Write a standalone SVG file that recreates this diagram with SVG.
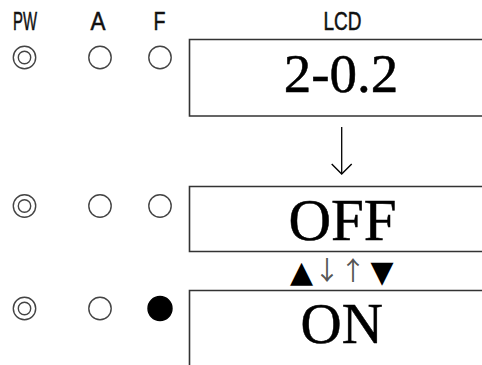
<svg xmlns="http://www.w3.org/2000/svg" width="482" height="365" viewBox="0 0 482 365">
<style>
.hdr{font-family:"Liberation Sans","DejaVu Sans",sans-serif;font-size:25px;fill:#111;stroke:#111;stroke-width:0.5;text-anchor:middle}
.led{fill:#fff;stroke:#444;stroke-width:1.4}
.on{fill:#000;stroke:#000}
.box{fill:none;stroke:#333;stroke-width:1.6}
.lcd{font-family:"Liberation Serif","DejaVu Serif",serif;fill:#000;stroke:#000;stroke-width:0.5;text-anchor:middle}
.sym{font-family:"DejaVu Sans",sans-serif;fill:#000;text-anchor:middle}
.thin{font-family:"Noto Sans CJK JP","DejaVu Sans",sans-serif;fill:#555;text-anchor:middle}
.conn{stroke:#000;stroke-width:1.3;fill:none}
</style>
<defs>
<marker id="open" viewBox="0 0 12 22" refX="11" refY="11" markerWidth="12" markerHeight="22" markerUnits="userSpaceOnUse" orient="auto">
<path d="M1 1 L11 11 L1 21" fill="none" stroke="#000" stroke-width="1.4"/>
</marker>
</defs>
<g id="headers">
<text class="hdr" x="25" y="29.5" textLength="24" lengthAdjust="spacingAndGlyphs">PW</text>
<text class="hdr" x="98" y="29.5" textLength="15" lengthAdjust="spacingAndGlyphs">A</text>
<text class="hdr" x="159.5" y="29.5" textLength="12" lengthAdjust="spacingAndGlyphs">F</text>
<text class="hdr" x="342.5" y="29.5" textLength="38" lengthAdjust="spacingAndGlyphs">LCD</text>
</g>
<g id="row1-leds">
<circle class="led" cx="24.5" cy="57.5" r="11.2"/><circle class="led" cx="24.5" cy="57.5" r="6.2"/>
<circle class="led" cx="100" cy="57.5" r="11.2"/>
<circle class="led" cx="160" cy="57.5" r="11.2"/>
</g>
<g id="lcd1">
<path class="box" d="M482 39.5 H189.5 V116 H482"/>
<text class="lcd" x="341" y="92" font-size="55">2-0.2</text>
</g>
<g id="row2-leds">
<circle class="led" cx="24.5" cy="206" r="11.2"/><circle class="led" cx="24.5" cy="206" r="6.2"/>
<circle class="led" cx="100" cy="206" r="11.2"/>
<circle class="led" cx="160" cy="206" r="11.2"/>
</g>
<g id="lcd2">
<path class="box" d="M482 186.5 H189.5 V251.5 H482"/>
<text class="lcd" x="342.5" y="240" font-size="59">OFF</text>
</g>
<g id="keys">
<text class="sym" x="301.5" y="282" font-size="30">▲</text>
<text class="thin" x="327" y="280" font-size="26">↓</text>
<text class="thin" x="353" y="280" font-size="26">↑</text>
<text class="sym" x="382" y="282" font-size="30">▼</text>
</g>
<g id="row3-leds">
<circle class="led" cx="24.5" cy="308.5" r="11.2"/><circle class="led" cx="24.5" cy="308.5" r="6.2"/>
<circle class="led" cx="100" cy="308.5" r="11.2"/>
<circle class="led on" cx="160" cy="308.5" r="12"/>
</g>
<g id="lcd3">
<path class="box" d="M482 290.5 H189.5 V365"/>
<text class="lcd" x="341.7" y="343" font-size="57">ON</text>
</g>
<g id="connectors">
<line class="conn" x1="341.7" y1="127" x2="341.7" y2="174" marker-end="url(#open)"/>
</g>
</svg>
